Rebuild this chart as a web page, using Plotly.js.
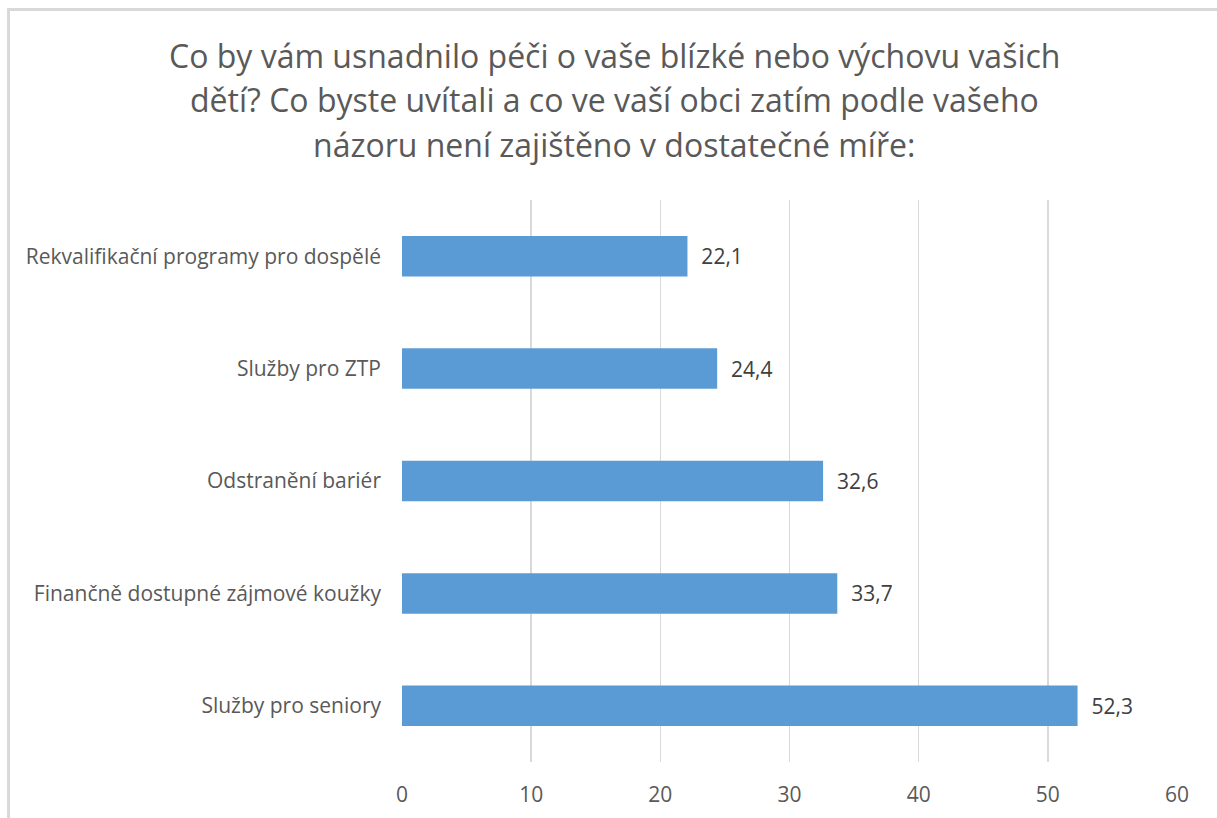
<!DOCTYPE html>
<html>
<head>
<meta charset="utf-8">
<script src="https://cdn.plot.ly/plotly-3.0.1.min.js"></script>
<style>
html,body{margin:0;padding:0;background:#fff;}
#wrap{position:relative;width:1217px;height:818px;}
#chart{position:absolute;left:0;top:0;width:1217px;height:818px;}
#frame{position:absolute;left:7px;top:8px;width:1230px;height:830px;border-top:3px solid #d9d9d9;border-left:3px solid #d9d9d9;pointer-events:none;}
</style>
</head>
<body>
<div id="wrap"><div id="chart"></div><div id="frame"></div></div>
<script>
const titleLines = [
  "Co by vám usnadnilo péči o vaše blízké nebo výchovu vašich",
  "dětí? Co byste uvítali a co ve vaší obci zatím podle vašeho",
  "názoru není zajištěno v dostatečné míře:"
];
const categories = [
  "Rekvalifikační programy pro dospělé",
  "Služby pro ZTP",
  "Odstranění bariér",
  "Finančně dostupné zájmové koužky",
  "Služby pro seniory"
];
const values = [22.1, 24.4, 32.6, 33.7, 52.3];
const xTicks = [0, 10, 20, 30, 40, 50, 60];

const fontFam = "'Open Sans', 'Noto Sans', sans-serif";
const titleY = [1.258, 1.178, 1.098];

const trace = {
  type: 'bar',
  orientation: 'h',
  y: categories,
  x: values,
  marker: {color: '#5b9bd5'},
  texttemplate: '\u00a0\u00a0%{x:.1f}',
  textposition: 'outside',
  cliponaxis: false,
  textfont: {family: fontFam, size: 21, color: '#404040'},
  hoverinfo: 'none'
};

const layout = {
  width: 1217, height: 818,
  margin: {l: 402, r: 40, t: 200, b: 56},
  paper_bgcolor: 'rgba(0,0,0,0)',
  plot_bgcolor: '#fff',
  separators: ', ',
  showlegend: false,
  bargap: 0.64,
  font: {family: fontFam, color: '#595959'},
  xaxis: {
    range: [0, 60],
    tickvals: xTicks,
    ticktext: xTicks.map(String),
    showgrid: true, gridcolor: '#d9d9d9', gridwidth: 1.5,
    zeroline: false, showline: false,
    ticks: '', ticklabelstandoff: 18,
    tickfont: {family: fontFam, size: 21, color: '#595959'}
  },
  yaxis: {
    autorange: 'reversed',
    showgrid: false, zeroline: false, showline: false,
    ticks: '', ticklabelstandoff: 20,
    tickfont: {family: fontFam, size: 21, color: '#595959'}
  },
  annotations: titleLines.map((t, i) => ({
    text: t, xref: 'paper', yref: 'paper', x: 0.274, y: titleY[i],
    xanchor: 'center', yanchor: 'middle', showarrow: false,
    font: {family: fontFam, size: 32, color: '#595959'}
  }))
};

Plotly.newPlot('chart', [trace], layout, {staticPlot: true});
</script>
</body>
</html>
